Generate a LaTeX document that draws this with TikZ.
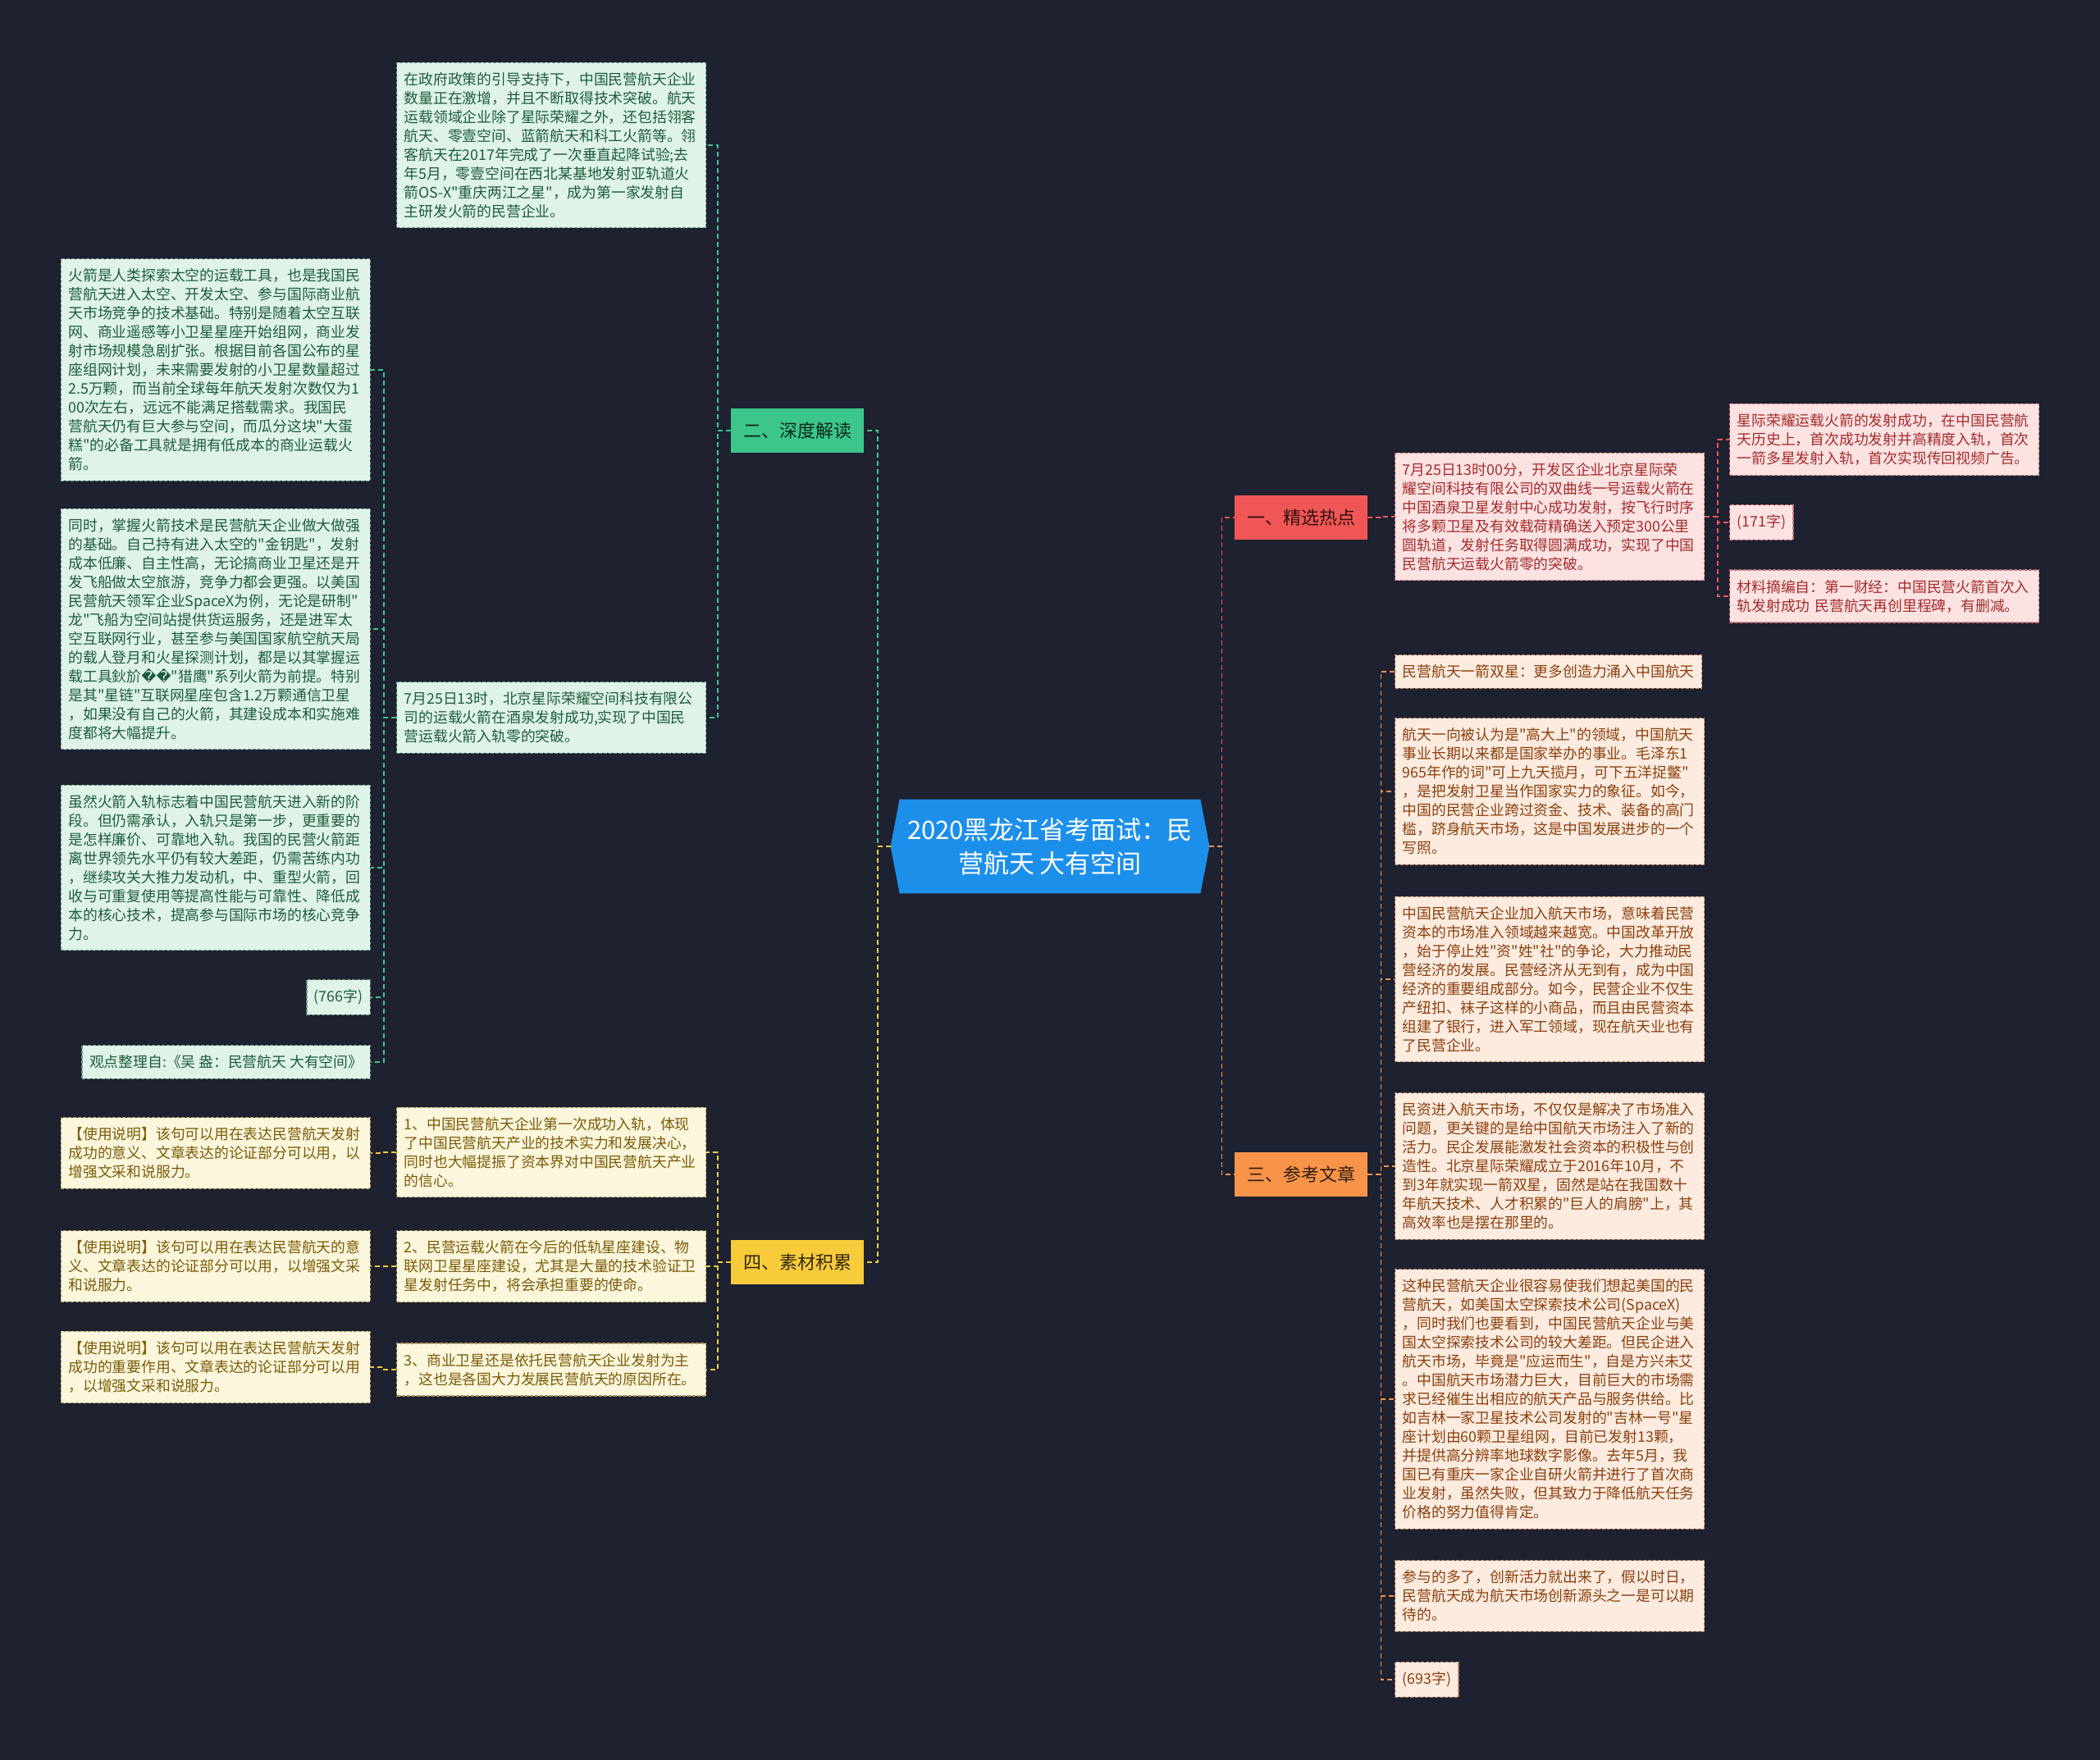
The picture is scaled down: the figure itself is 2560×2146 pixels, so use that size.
\documentclass[tikz,border=0pt]{standalone}
\usepackage{fontspec}
\setmainfont{Noto Sans CJK SC}
\newfontfamily\zh{Noto Sans CJK SC}
\newfontfamily\repfont{DejaVu Sans}
\usetikzlibrary{positioning,calc,backgrounds}
\definecolor{cBg}{HTML}{1E2130}
\definecolor{cRoot}{HTML}{1C8FEA}
\definecolor{cR}{HTML}{F05656}
\definecolor{cG}{HTML}{3CC68B}
\definecolor{cO}{HTML}{F7944A}
\definecolor{cY}{HTML}{F8CB3B}
\definecolor{fG}{HTML}{DFF3E9}
\definecolor{tG}{HTML}{1F5C3D}
\definecolor{fR}{HTML}{FDE2E2}
\definecolor{tR}{HTML}{A32C2C}
\definecolor{fO}{HTML}{FDEBDF}
\definecolor{tO}{HTML}{8A400F}
\definecolor{fY}{HTML}{FCF6DC}
\definecolor{tY}{HTML}{7A5C0A}
\tikzset{
  leaf/.style={draw,dash pattern=on 2pt off 1pt,line width=.6pt,
              inner xsep=4.5pt,inner ysep=6pt,align=left,
              font=\zh\fontsize{8.9}{11.5}\selectfont},
  wide/.style={text width=179.5pt},
  leafG/.style={leaf,fill=fG,text=tG,draw=tG!60!fG},
  leafR/.style={leaf,fill=fR,text=tR,draw=tR!60!fR},
  leafO/.style={leaf,fill=fO,text=tO,draw=tO!60!fO},
  leafY/.style={leaf,fill=fY,text=tY,draw=tY!60!fY},
  branch/.style={minimum width=81pt,minimum height=27pt,inner sep=2pt,
              font=\zh\fontsize{11}{13}\selectfont},
  rootnode/.style={minimum width=194pt,minimum height=57pt,align=center,
              text=white,font=\zh\fontsize{15.5}{20.5}\selectfont},
  link/.style={dash pattern=on 3pt off 2pt,line width=.9pt},
}

\begin{document}
\begin{tikzpicture}[x=0.5pt,y=-0.5pt]
  \useasboundingbox (0,0) rectangle (2560,2146);
  \node[rootnode] (root) at (1280,1032) {2020黑龙江省考面试：民\\营航天 大有空间};
  \begin{scope}[on background layer]
    \fill[cBg] (0,0) rectangle (2560,2146);
    \fill[cRoot] ($(root.north west)+(11,0)$) -- ($(root.north east)+(-11,0)$)
      -- (root.east) -- ($(root.south east)+(-11,0)$)
      -- ($(root.south west)+(11,0)$) -- (root.west) -- cycle;
  \end{scope}

  \node[branch,fill=cR,text=black!80!cR] (hot) at (1586,631) {一、精选热点};
  \node[branch,fill=cG,text=black!80!cG] (deep) at (972,525) {二、深度解读};
  \node[branch,fill=cO,text=black!80!cO] (ref) at (1586,1432) {三、参考文章};
  \node[branch,fill=cY,text=black!80!cY] (mat) at (972,1539) {四、素材积累};

  % 二
  \node[leafG,wide,anchor=west] (ga) at (483,177) {在政府政策的引导支持下，中国民营航天企业\\数量正在激增，并且不断取得技术突破。航天\\运载领域企业除了星际荣耀之外，还包括翎客\\航天、零壹空间、蓝箭航天和科工火箭等。翎\\客航天在2017年完成了一次垂直起降试验;去\\年5月，零壹空间在西北某基地发射亚轨道火\\箭\mbox{OS-X}"重庆两江之星"，成为第一家发射自\\主研发火箭的民营企业。};
  \node[leafG,wide,anchor=west] (gb) at (483,875) {7月25日13时，北京星际荣耀空间科技有限公\\司的运载火箭在酒泉发射成功,实现了中国民\\营运载火箭入轨零的突破。};
  \node[leafG,wide,anchor=east] (gc) at (452,451) {火箭是人类探索太空的运载工具，也是我国民\\营航天进入太空、开发太空、参与国际商业航\\天市场竞争的技术基础。特别是随着太空互联\\网、商业遥感等小卫星星座开始组网，商业发\\射市场规模急剧扩张。根据目前各国公布的星\\座组网计划，未来需要发射的小卫星数量超过\\2.5万颗，而当前全球每年航天发射次数仅为1\\00次左右，远远不能满足搭载需求。我国民\\营航天仍有巨大参与空间，而瓜分这块"大蛋\\糕"的必备工具就是拥有低成本的商业运载火\\箭。};
  \node[leafG,wide,anchor=east] (gd) at (452,767) {同时，掌握火箭技术是民营航天企业做大做强\\的基础。自己持有进入太空的"金钥匙"，发射\\成本低廉、自主性高，无论搞商业卫星还是开\\发飞船做太空旅游，竞争力都会更强。以美国\\民营航天领军企业SpaceX为例，无论是研制"\\龙"飞船为空间站提供货运服务，还是进军太\\空互联网行业，甚至参与美国国家航空航天局\\的载人登月和火星探测计划，都是以其掌握运\\载工具鈥斺{\repfont ^^^^fffd^^^^fffd}"猎鹰"系列火箭为前提。特别\\是其"星链"互联网星座包含1.2万颗通信卫星\\，如果没有自己的火箭，其建设成本和实施难\\度都将大幅提升。};
  \node[leafG,wide,anchor=east] (ge) at (452,1058) {虽然火箭入轨标志着中国民营航天进入新的阶\\段。但仍需承认，入轨只是第一步，更重要的\\是怎样廉价、可靠地入轨。我国的民营火箭距\\离世界领先水平仍有较大差距，仍需苦练内功\\，继续攻关大推力发动机，中、重型火箭，回\\收与可重复使用等提高性能与可靠性、降低成\\本的核心技术，提高参与国际市场的核心竞争\\力。};
  \node[leafG,anchor=east] (gcount) at (452,1216) {(766字)};
  \node[leafG,anchor=east] (gsrc) at (452,1295) {观点整理自:《吴 盎：民营航天 大有空间》};

  % 四
  \node[leafY,wide,anchor=west] (ma) at (483,1405) {1、中国民营航天企业第一次成功入轨，体现\\了中国民营航天产业的技术实力和发展决心，\\同时也大幅提振了资本界对中国民营航天产业\\的信心。};
  \node[leafY,wide,anchor=west] (mb) at (483,1544) {2、民营运载火箭在今后的低轨星座建设、物\\联网卫星星座建设，尤其是大量的技术验证卫\\星发射任务中，将会承担重要的使命。};
  \node[leafY,wide,anchor=west] (mc) at (483,1670) {3、商业卫星还是依托民营航天企业发射为主\\，这也是各国大力发展民营航天的原因所在。};
  \node[leafY,wide,anchor=east] (ua) at (452,1406) {【使用说明】该句可以用在表达民营航天发射\\成功的意义、文章表达的论证部分可以用，以\\增强文采和说服力。};
  \node[leafY,wide,anchor=east] (ub) at (452,1544) {【使用说明】该句可以用在表达民营航天的意\\义、文章表达的论证部分可以用，以增强文采\\和说服力。};
  \node[leafY,wide,anchor=east] (uc) at (452,1667) {【使用说明】该句可以用在表达民营航天发射\\成功的重要作用、文章表达的论证部分可以用\\，以增强文采和说服力。};

  % 一
  \node[leafR,wide,anchor=west] (ha) at (1700,630) {7月25日13时00分，开发区企业北京星际荣\\耀空间科技有限公司的双曲线一号运载火箭在\\中国酒泉卫星发射中心成功发射，按飞行时序\\将多颗卫星及有效载荷精确送入预定300公里\\圆轨道，发射任务取得圆满成功，实现了中国\\民营航天运载火箭零的突破。};
  \node[leafR,wide,anchor=west] (hb) at (2108,536) {星际荣耀运载火箭的发射成功，在中国民营航\\天历史上，首次成功发射并高精度入轨，首次\\一箭多星发射入轨，首次实现传回视频广告。};
  \node[leafR,anchor=west] (hcount) at (2108,637) {(171字)};
  \node[leafR,wide,anchor=west] (hsrc) at (2108,727) {材料摘编自：第一财经：中国民营火箭首次入\\轨发射成功 民营航天再创里程碑，有删减。};

  % 三
  \node[leafO,anchor=west] (ra) at (1700,819) {民营航天一箭双星：更多创造力涌入中国航天};
  \node[leafO,wide,anchor=west] (rb) at (1700,965) {航天一向被认为是"高大上"的领域，中国航天\\事业长期以来都是国家举办的事业。毛泽东1\\965年作的词"可上九天揽月，可下五洋捉鳖"\\，是把发射卫星当作国家实力的象征。如今，\\中国的民营企业跨过资金、技术、装备的高门\\槛，跻身航天市场，这是中国发展进步的一个\\写照。};
  \node[leafO,wide,anchor=west] (rc) at (1700,1194) {中国民营航天企业加入航天市场，意味着民营\\资本的市场准入领域越来越宽。中国改革开放\\，始于停止姓"资"姓"社"的争论，大力推动民\\营经济的发展。民营经济从无到有，成为中国\\经济的重要组成部分。如今，民营企业不仅生\\产纽扣、袜子这样的小商品，而且由民营资本\\组建了银行，进入军工领域，现在航天业也有\\了民营企业。};
  \node[leafO,wide,anchor=west] (rd) at (1700,1422) {民资进入航天市场，不仅仅是解决了市场准入\\问题，更关键的是给中国航天市场注入了新的\\活力。民企发展能激发社会资本的积极性与创\\造性。北京星际荣耀成立于2016年10月，不\\到3年就实现一箭双星，固然是站在我国数十\\年航天技术、人才积累的"巨人的肩膀"上，其\\高效率也是摆在那里的。};
  \node[leafO,wide,anchor=west] (re) at (1700,1706) {这种民营航天企业很容易使我们想起美国的民\\营航天，如美国太空探索技术公司(SpaceX)\\，同时我们也要看到，中国民营航天企业与美\\国太空探索技术公司的较大差距。但民企进入\\航天市场，毕竟是"应运而生"，自是方兴未艾\\。中国航天市场潜力巨大，目前巨大的市场需\\求已经催生出相应的航天产品与服务供给。比\\如吉林一家卫星技术公司发射的"吉林一号"星\\座计划由60颗卫星组网，目前已发射13颗，\\并提供高分辨率地球数字影像。去年5月，我\\国已有重庆一家企业自研火箭并进行了首次商\\业发射，虽然失败，但其致力于降低航天任务\\价格的努力值得肯定。};
  \node[leafO,wide,anchor=west] (rf) at (1700,1946) {参与的多了，创新活力就出来了，假以时日，\\民营航天成为航天市场创新源头之一是可以期\\待的。};
  \node[leafO,anchor=west] (rcount) at (1700,2048) {(693字)};

  \draw[link,cG] (root.west) -- ++(-16,0) |- (deep.east);
  \draw[link,cY] (root.west) -- ++(-16,0) |- (mat.east);
  \draw[link,cR] (root.east) -- ++(15,0) |- (hot.west);
  \draw[link,cO] (root.east) -- ++(15,0) |- (ref.west);
  \foreach \n in {ga,gb} \draw[link,cG] (deep.west) -- ++(-16,0) |- (\n.east);
  \foreach \n in {gc,gd,ge,gcount,gsrc} \draw[link,cG] (gb.west) -- ++(-15,0) |- (\n.east);
  \foreach \n in {ma,mb,mc} \draw[link,cY] (mat.west) -- ++(-16,0) |- (\n.east);
  \draw[link,cY] (ma.west) -- ++(-15,0) |- (ua.east);
  \draw[link,cY] (mb.west) -- ++(-15,0) |- (ub.east);
  \draw[link,cY] (mc.west) -- ++(-15,0) |- (uc.east);
  \draw[link,cR] (hot.east) -- ++(16,0) |- (ha.west);
  \foreach \n in {hb,hcount,hsrc} \draw[link,cR] (ha.east) -- ++(16,0) |- (\n.west);
  \foreach \n in {ra,rb,rc,rd,re,rf,rcount} \draw[link,cO] (ref.east) -- ++(16,0) |- (\n.west);
\end{tikzpicture}
\end{document}
